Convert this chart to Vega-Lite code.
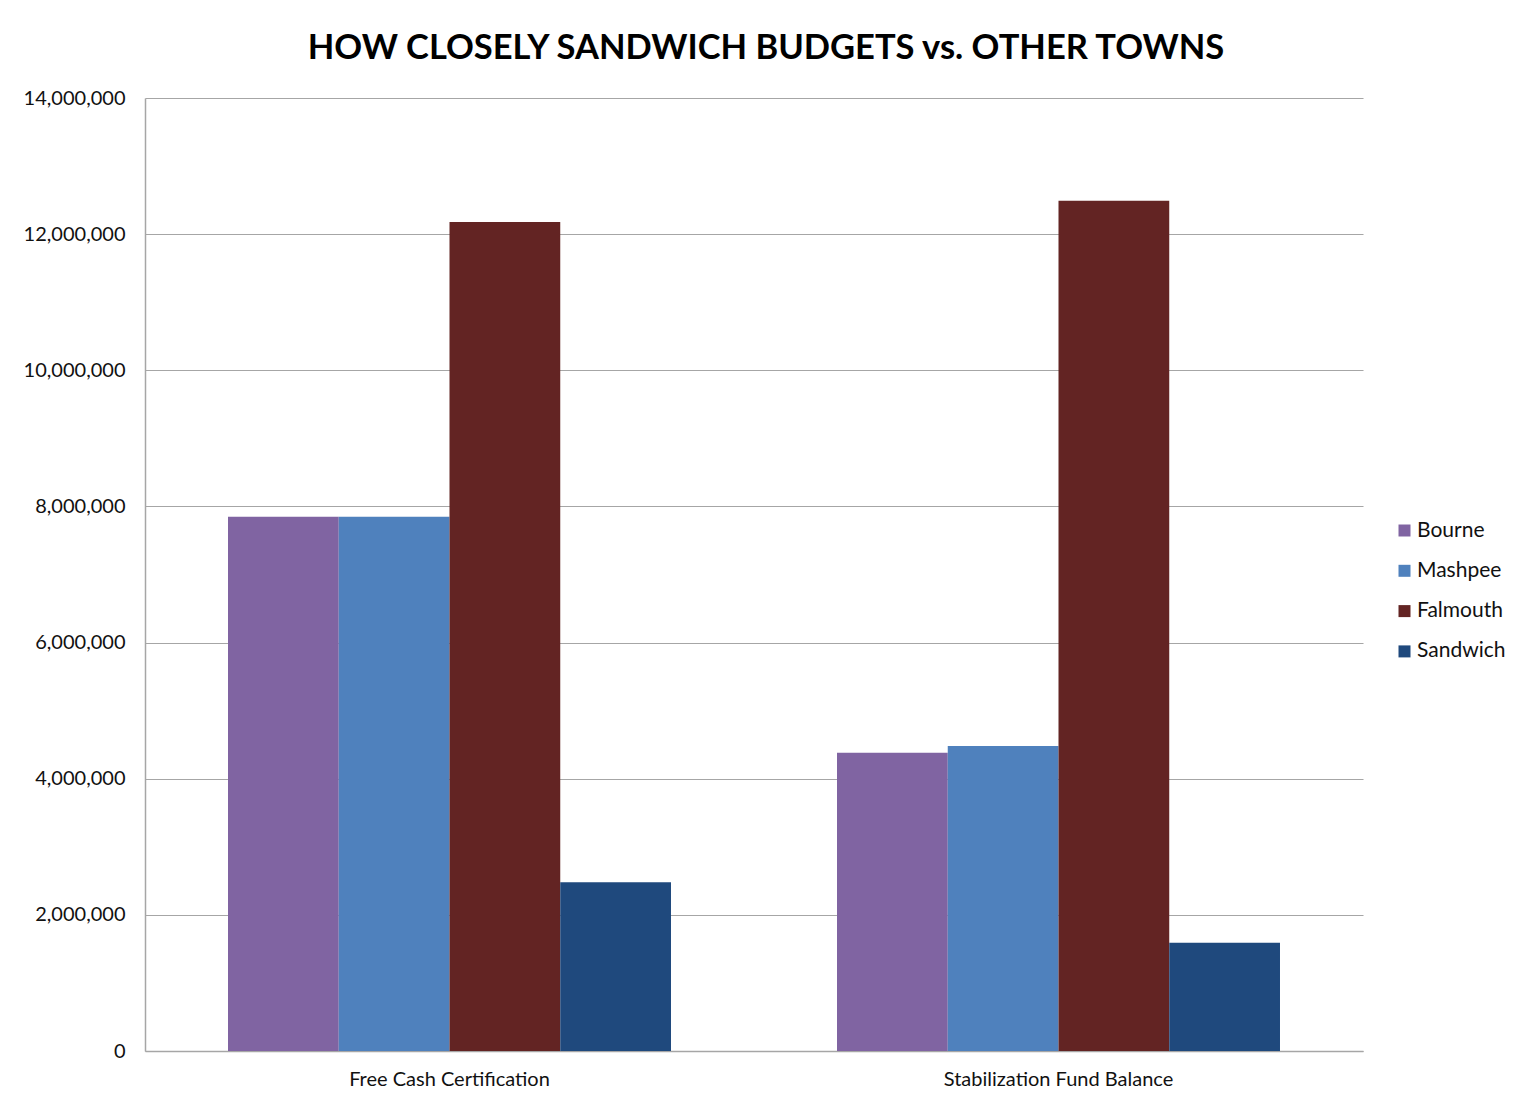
{
  "$schema": "https://vega.github.io/schema/vega-lite/v6.json",
  "width": 1218,
  "height": 953,
  "autosize": {"type": "none"},
  "padding": {"left": 145, "top": 98, "right": 157, "bottom": 52},
  "background": "white",
  "title": {
    "text": "HOW CLOSELY SANDWICH BUDGETS vs. OTHER TOWNS",
    "font": "Lato",
    "fontSize": 34.5,
    "fontWeight": "bold",
    "color": "#000000",
    "anchor": "middle",
    "dx": 12,
    "offset": 22
  },
  "data": {
    "values": [
      {"category": "Free Cash Certification", "town": "Bourne", "amount": 7850000},
      {"category": "Free Cash Certification", "town": "Mashpee", "amount": 7850000},
      {"category": "Free Cash Certification", "town": "Falmouth", "amount": 12180000},
      {"category": "Free Cash Certification", "town": "Sandwich", "amount": 2480000},
      {"category": "Stabilization Fund Balance", "town": "Bourne", "amount": 4380000},
      {"category": "Stabilization Fund Balance", "town": "Mashpee", "amount": 4480000},
      {"category": "Stabilization Fund Balance", "town": "Falmouth", "amount": 12490000},
      {"category": "Stabilization Fund Balance", "town": "Sandwich", "amount": 1590000}
    ]
  },
  "mark": {"type": "bar"},
  "encoding": {
    "x": {
      "field": "category",
      "type": "nominal",
      "sort": null,
      "scale": {"paddingInner": 0.2726, "paddingOuter": 0.1363},
      "axis": {
        "title": null,
        "labelAngle": 0,
        "labelLimit": 0,
        "labelFont": "Lato",
        "labelFontSize": 20,
        "labelColor": "#111111",
        "labelPadding": 18,
        "ticks": false,
        "domainColor": "#a6a6a6",
        "domainWidth": 1.5,
        "grid": false
      }
    },
    "xOffset": {
      "field": "town",
      "type": "nominal",
      "sort": ["Bourne", "Mashpee", "Falmouth", "Sandwich"],
      "scale": {"paddingInner": 0, "paddingOuter": 0}
    },
    "y": {
      "field": "amount",
      "type": "quantitative",
      "scale": {"domain": [0, 14000000], "nice": false},
      "axis": {
        "title": null,
        "values": [0, 2000000, 4000000, 6000000, 8000000, 10000000, 12000000, 14000000],
        "format": ",d",
        "labelFont": "Lato",
        "labelFontSize": 20,
        "labelColor": "#111111",
        "labelPadding": 20,
        "ticks": false,
        "domainColor": "#a6a6a6",
        "domainWidth": 1.5,
        "gridColor": "#a6a6a6",
        "gridWidth": 1.2
      }
    },
    "color": {
      "field": "town",
      "type": "nominal",
      "sort": ["Bourne", "Mashpee", "Falmouth", "Sandwich"],
      "scale": {
        "domain": ["Bourne", "Mashpee", "Falmouth", "Sandwich"],
        "range": ["#8064A2", "#4F81BD", "#632423", "#1F497D"]
      },
      "legend": {
        "title": null,
        "orient": "none",
        "legendX": 1249,
        "legendY": 422,
        "symbolType": "square",
        "symbolSize": 144,
        "symbolStrokeWidth": 0,
        "labelFont": "Lato",
        "labelFontSize": 21,
        "labelColor": "#111111",
        "labelOffset": 2,
        "rowPadding": 18.3,
        "padding": 0
      }
    }
  },
  "config": {
    "view": {"stroke": null}
  }
}
